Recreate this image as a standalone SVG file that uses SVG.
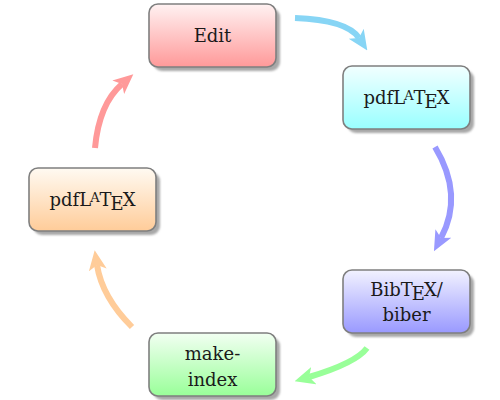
<svg xmlns="http://www.w3.org/2000/svg" width="500" height="400" viewBox="0 0 500 400">
<style>
.box{stroke:#7f7f7f;stroke-width:1.6}
.sh{fill:#a8a8a8}
.t{font-family:"DejaVu Serif","Liberation Serif",serif;font-size:18px;fill:#1a1a1a;text-anchor:middle}
.sm{font-size:13px}
.arr{fill:none;stroke-width:6}
</style>
<defs>
<filter id="blur" x="-10%" y="-10%" width="120%" height="120%"><feGaussianBlur stdDeviation="1"/></filter>
<linearGradient id="gRed" x1="0" y1="0" x2="0" y2="1"><stop offset="0" stop-color="#fff2f2"/><stop offset="1" stop-color="#ff9999"/></linearGradient>
<linearGradient id="gCyan" x1="0" y1="0" x2="0" y2="1"><stop offset="0" stop-color="#f2ffff"/><stop offset="1" stop-color="#99ffff"/></linearGradient>
<linearGradient id="gBlue" x1="0" y1="0" x2="0" y2="1"><stop offset="0" stop-color="#f2f2ff"/><stop offset="1" stop-color="#9999ff"/></linearGradient>
<linearGradient id="gGreen" x1="0" y1="0" x2="0" y2="1"><stop offset="0" stop-color="#f2fff2"/><stop offset="1" stop-color="#99ff99"/></linearGradient>
<linearGradient id="gOrange" x1="0" y1="0" x2="0" y2="1"><stop offset="0" stop-color="#fffaf2"/><stop offset="1" stop-color="#ffcc99"/></linearGradient>
<marker id="mCyan" markerUnits="userSpaceOnUse" viewBox="0 0 20 20" markerWidth="20" markerHeight="20" refX="5" refY="10" orient="auto"><path d="M0,1 L20,10 L0,19 L5,10 z" fill="#87d5f5"/></marker>
<marker id="mBlue" markerUnits="userSpaceOnUse" viewBox="0 0 20 20" markerWidth="20" markerHeight="20" refX="5" refY="10" orient="auto"><path d="M0,1 L20,10 L0,19 L5,10 z" fill="#9999ff"/></marker>
<marker id="mGreen" markerUnits="userSpaceOnUse" viewBox="0 0 20 20" markerWidth="20" markerHeight="20" refX="5" refY="10" orient="auto"><path d="M0,1 L20,10 L0,19 L5,10 z" fill="#99ff99"/></marker>
<marker id="mOrange" markerUnits="userSpaceOnUse" viewBox="0 0 20 20" markerWidth="20" markerHeight="20" refX="5" refY="10" orient="auto"><path d="M0,1 L20,10 L0,19 L5,10 z" fill="#ffcc99"/></marker>
<marker id="mRed" markerUnits="userSpaceOnUse" viewBox="0 0 20 20" markerWidth="20" markerHeight="20" refX="5" refY="10" orient="auto"><path d="M0,1 L20,10 L0,19 L5,10 z" fill="#ff9999"/></marker>
</defs>

<g id="connectors">
<path class="arr" stroke="#87d5f5" marker-end="url(#mCyan)" d="M295,18 Q347,20 359,38"/>
<path class="arr" stroke="#9999ff" marker-end="url(#mBlue)" d="M435,147 Q464,195 441,238"/>
<path class="arr" stroke="#99ff99" marker-end="url(#mGreen)" d="M367,348 Q356,363 309,377"/>
<path class="arr" stroke="#ffcc99" marker-end="url(#mOrange)" d="M132,327 Q102,297 97,265"/>
<path class="arr" stroke="#ff9999" marker-end="url(#mRed)" d="M95,148 Q99,104 122,84"/>
</g>

<g id="edit">
<rect class="sh" filter="url(#blur)" x="153" y="8" width="127" height="63" rx="9"/>
<rect class="box" fill="url(#gRed)" x="149" y="4" width="127" height="63" rx="9"/>
<text class="t" x="212.5" y="42">Edit</text>
</g>

<g id="pdflatex1">
<rect class="sh" filter="url(#blur)" x="347" y="70" width="127" height="63" rx="9"/>
<rect class="box" fill="url(#gCyan)" x="343" y="66" width="127" height="63" rx="9"/>
<text class="t" x="406.5" y="104">pdfL<tspan class="sm" dx="-1" dy="-4">A</tspan><tspan dy="4">T</tspan><tspan dx="-1" dy="4">E</tspan><tspan dx="-1" dy="-4">X</tspan></text>
</g>

<g id="bibtex">
<rect class="sh" filter="url(#blur)" x="347" y="274" width="127" height="63" rx="9"/>
<rect class="box" fill="url(#gBlue)" x="343" y="270" width="127" height="63" rx="9"/>
<text class="t" x="406.5" y="296">BibT<tspan dx="-1" dy="4">E</tspan><tspan dx="-1" dy="-4">X/</tspan></text>
<text class="t" x="406.5" y="321">biber</text>
</g>

<g id="makeindex">
<rect class="sh" filter="url(#blur)" x="153" y="337" width="127" height="63" rx="9"/>
<rect class="box" fill="url(#gGreen)" x="149" y="333" width="127" height="63" rx="9"/>
<text class="t" x="212.5" y="360">make-</text>
<text class="t" x="212.5" y="386">index</text>
</g>

<g id="pdflatex2">
<rect class="sh" filter="url(#blur)" x="33" y="172" width="127" height="63" rx="9"/>
<rect class="box" fill="url(#gOrange)" x="29" y="168" width="127" height="63" rx="9"/>
<text class="t" x="92.5" y="206">pdfL<tspan class="sm" dx="-1" dy="-4">A</tspan><tspan dy="4">T</tspan><tspan dx="-1" dy="4">E</tspan><tspan dx="-1" dy="-4">X</tspan></text>
</g>
</svg>
